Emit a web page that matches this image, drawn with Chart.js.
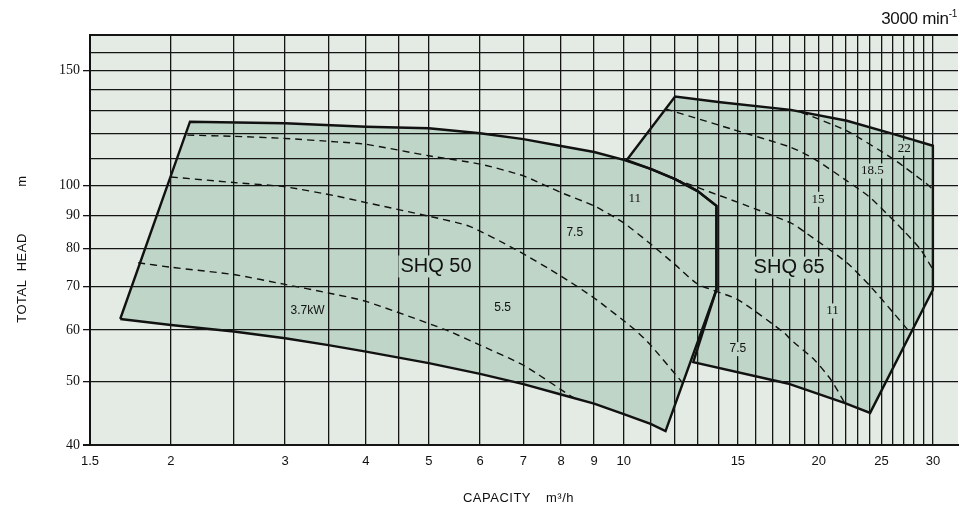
<!DOCTYPE html>
<html>
<head>
<meta charset="utf-8">
<script src="https://cdn.jsdelivr.net/npm/chart.js@4.4.1/dist/chart.umd.min.js"></script>
<style>
  body { margin: 0; background: #fff; }
  #wrap { position: relative; width: 963px; height: 517px; }
  #speed {
    position: absolute; right: 6px; top: 8px;
    font-family: "Liberation Sans", Arial, sans-serif; font-size: 17px; color: #111;
    letter-spacing: -0.3px;
  }
  #speed sup { font-size: 10px; }
</style>
</head>
<body>
<div id="wrap">
  <canvas id="pumpChart" width="963" height="517"></canvas>
  <div id="speed">3000 min<sup>-1</sup></div>
</div>
<script>
// grid + tick values (log-log chart)
const xGrid = [1.5, 2, 2.5, 3, 3.5, 4, 4.5, 5, 6, 7, 8, 9, 10, 11, 12, 13, 14, 15, 16, 17, 18, 19, 20,
               21, 22, 23, 24, 25, 26, 27, 28, 29, 30];
const xTickLabels = [1.5, 2, 3, 4, 5, 6, 7, 8, 9, 10, 15, 20, 25, 30];
const yGrid = [40, 50, 60, 70, 80, 90, 100, 110, 120, 130, 140, 150, 160, 170];
const yTickLabels = [40, 50, 60, 70, 80, 90, 100, 150];

// SHQ 50 operating range (capacity m3/h, head m)
const shq50Q = [1.67, 2.14, 3, 4, 5, 6, 7, 8, 9, 10, 11, 12, 13, 13.9, 13.9, 11.6, 11, 10, 9, 8, 7, 6, 5, 4, 3.5, 3, 2.5, 2, 1.67];
const shq50H = [62.4, 125.2, 124.5, 123.0, 122.3, 120.2, 117.7, 114.9, 112.5, 109.4, 106.0, 102.2, 98.0, 93.0, 69.2, 42.0, 43.1, 44.6, 46.3, 47.8, 49.6, 51.4, 53.4, 55.6, 56.9, 58.3, 59.7, 61.1, 62.4];

// SHQ 65 operating range
const shq65Q = [10.1, 12.0, 14.1, 18.1, 22.1, 26.1, 30, 30, 24.0, 21.9, 17.9, 12.8, 13.9, 13.9, 13, 12, 11, 10.1];
const shq65H = [109.3, 136.8, 134.1, 130.5, 125.6, 119.8, 115.0, 69.2, 44.8, 46.4, 49.7, 53.6, 69.2, 93.0, 98.0, 102.2, 106.0, 109.3];

// motor power boundaries (dashed)
const kw37Q = [1.78, 2, 2.5, 3, 3.5, 4, 5.3, 6, 7, 8.4];
const kw37H = [76.1, 74.9, 73.0, 70.5, 68.4, 66.4, 60.1, 56.9, 53.0, 47.1];
const kw55Q = [2.0, 2.5, 3, 3.6, 4, 5, 5.77, 6.8, 8, 9, 10.4, 11, 12.35];
const kw55H = [103, 101, 99.5, 96.3, 94.1, 89.7, 86.6, 79.8, 72.6, 67.2, 60.1, 56.9, 49.7];
const kw75Q = [2.12, 2.5, 3, 3.6, 4, 5, 6, 7, 8, 9, 10, 11, 12, 13, 15, 17.7, 18.1, 19.7, 20.9, 21.9];
const kw75H = [119.4, 118.9, 118.0, 116.6, 115.6, 111.0, 107.8, 103.4, 97.5, 93.0, 87.6, 81.3, 75.6, 70.6, 66.8, 59.4, 58.0, 54.0, 50.3, 46.5];
const kw11Q = [12.0, 15.3, 18.1, 19.1, 22.1, 24.0, 26.1, 27.7];
const kw11H = [102.2, 93.5, 87.6, 84.6, 76.1, 70.1, 63.7, 59.4];
const kw15Q = [11.6, 14.7, 18.1, 19.7, 22.1, 24, 27.1, 28.7, 30];
const kw15H = [131, 121.9, 114.4, 109.7, 101.6, 95.8, 85.0, 79.8, 74.3];
const kw185Q = [18.8, 22.1, 26.1, 29.4, 30];
const kw185H = [129.4, 121.2, 109.6, 100.4, 98.6];

// labels inside the chart
const powerText = ['3.7kW', '5.5', '7.5', '11', '22', '18.5', '15', '11', '7.5'];
const powerQ = [3.25, 6.5, 8.4, 10.4, 27.1, 24.2, 19.95, 21.0, 15.0];
const powerH = [64.2, 65.0, 84.7, 95.5, 114, 105.2, 95.2, 64.2, 56.1];
const modelText = ['SHQ 50', 'SHQ 65'];
const modelQ = [5.13, 18.0];
const modelH = [75.1, 74.8];

const fillColor = '#bed5c8';
const serifLabels = ['11', '15', '18.5', '22'];

function pts(q, h) {
    return q.map((v, i) => ({ x: v, y: h[i] }));
}

function area(label, q, h) {
    return {
        label: label, data: pts(q, h), fill: 'shape', backgroundColor: fillColor,
        borderColor: '#111', borderWidth: 2.4, pointRadius: 0, tension: 0
    };
}

function dashed(label, q, h) {
    return {
        label: label, data: pts(q, h), fill: false, borderColor: '#111',
        borderWidth: 1.4, borderDash: [7, 5], pointRadius: 0, tension: 0.2
    };
}

// plot background + labels + axis titles
const decor = {
    id: 'decor',
    beforeDraw(chart) {
        const a = chart.chartArea, ctx = chart.ctx;
        ctx.save();
        ctx.fillStyle = '#e4ebe4';
        ctx.fillRect(a.left, a.top, a.right - a.left, a.bottom - a.top);
        ctx.restore();
    },
    afterDraw(chart) {
        const ctx = chart.ctx, xs = chart.scales.x, ys = chart.scales.y;
        ctx.save();
        ctx.textAlign = 'center';
        ctx.textBaseline = 'middle';

        function tag(text, q, h, font) {
            const px = xs.getPixelForValue(q), py = ys.getPixelForValue(h);
            ctx.font = font;
            const w = ctx.measureText(text).width;
            const fh = parseInt(font.match(/(\d+)px/)[1]);
            ctx.fillStyle = fillColor;
            ctx.fillRect(px - w / 2 - 2, py - fh / 2 - 1, w + 4, fh + 2);
            ctx.fillStyle = '#111';
            ctx.fillText(text, px, py);
        }
        modelText.forEach((t, i) => tag(t, modelQ[i], modelH[i], '20px "Liberation Sans", Arial, sans-serif'));
        powerText.forEach((t, i) => {
            const f = serifLabels.includes(t) ? '13px "Liberation Serif", serif' : '12px "Liberation Sans", Arial, sans-serif';
            tag(t, powerQ[i], powerH[i], f);
        });

        // axis titles
        ctx.fillStyle = '#111';
        ctx.font = '13px "Liberation Sans Narrow", "Liberation Sans", sans-serif';
        ctx.letterSpacing = '0.5px';
        ctx.fillText('CAPACITY', 497, 498);
        ctx.fillText('m³/h', 560, 498);
        ctx.translate(22, 0);
        ctx.rotate(-Math.PI / 2);
        ctx.fillText('TOTAL  HEAD', -278, 0);
        ctx.fillText('m', -181, 0);
        ctx.restore();
    }
};

const ctxPump = document.getElementById('pumpChart').getContext('2d');
const pumpChart = new Chart(ctxPump, {
    type: 'line',
    data: {
        datasets: [
            dashed('3.7kW', kw37Q, kw37H),
            dashed('5.5kW', kw55Q, kw55H),
            dashed('7.5kW', kw75Q, kw75H),
            dashed('11kW', kw11Q, kw11H),
            dashed('15kW', kw15Q, kw15H),
            dashed('18.5kW', kw185Q, kw185H),
            area('SHQ 50', shq50Q, shq50H),
            area('SHQ 65', shq65Q, shq65H)
        ]
    },
    options: {
        responsive: false,
        animation: false,
        layout: { padding: { top: 35, right: 5, left: 0, bottom: 0 } },
        plugins: {
            legend: { display: false },
            tooltip: { enabled: false },
            filler: { drawTime: 'beforeDatasetsDraw' }
        },
        scales: {
            x: {
                type: 'logarithmic', min: 1.5, max: 32.8,
                afterBuildTicks: axis => { axis.ticks = xGrid.map(v => ({ value: v })); },
                afterFit: axis => { axis.height = 72; },
                ticks: {
                    autoSkip: false, maxRotation: 0, padding: 9, color: '#111',
                    font: { family: '"Liberation Sans Narrow", "Liberation Sans", sans-serif', size: 13 },
                    callback: v => xTickLabels.includes(v) ? String(v) : ''
                },
                grid: {
                    z: 1, color: '#151515', drawTicks: false,
                    lineWidth: c => (c.tick && c.tick.value === 1.5) ? 2 : 1.3
                },
                border: { display: true, color: '#111', width: 2, z: 1 }
            },
            y: {
                type: 'logarithmic', min: 40, max: 170,
                afterBuildTicks: axis => { axis.ticks = yGrid.map(v => ({ value: v })); },
                afterFit: axis => { axis.width = 90; },
                ticks: {
                    autoSkip: false, padding: 3, color: '#111',
                    font: { family: '"Liberation Serif", serif', size: 14 },
                    callback: v => yTickLabels.includes(v) ? String(v) : ''
                },
                grid: {
                    z: 1, color: '#151515', tickLength: 7,
                    tickColor: c => (c.tick && yTickLabels.includes(c.tick.value)) ? '#151515' : 'rgba(0,0,0,0)',
                    lineWidth: c => (c.tick && (c.tick.value === 170 || c.tick.value === 40)) ? 2 : 1.3
                },
                border: { display: true, color: '#111', width: 2, z: 1 }
            }
        }
    },
    plugins: [decor]
});
</script>
</body>
</html>
